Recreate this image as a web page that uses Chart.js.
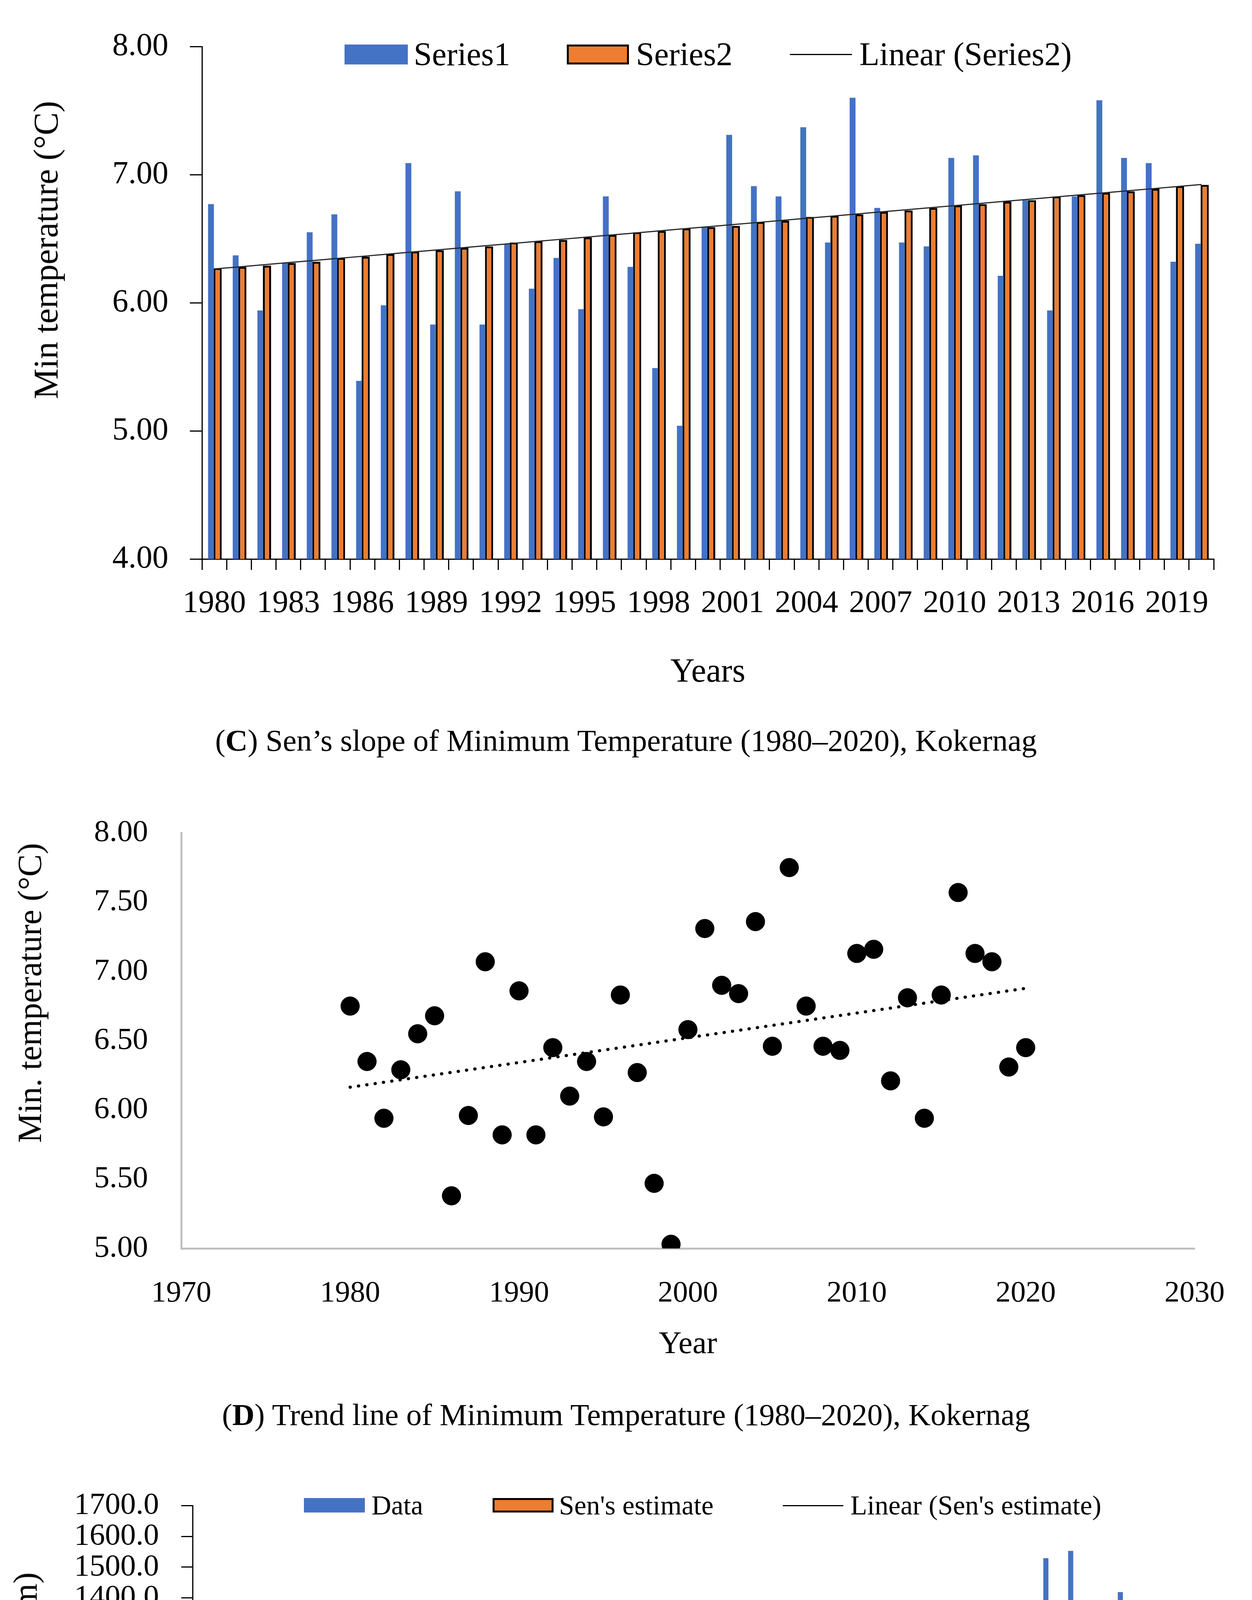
<!DOCTYPE html>
<html>
<head>
<meta charset="utf-8">
<script src="https://cdn.jsdelivr.net/npm/chart.js"></script>
<style>
  body { margin: 0; background: #fff; width: 3205px; height: 5449px; position: relative; overflow: hidden;
         font-family: "Liberation Serif", "Times New Roman", serif; color: #000; }
  canvas { position: absolute; left: 0; }
  .ytitle { position: absolute; white-space: nowrap; line-height: 1; transform: translate(-50%, -50%) rotate(-90deg); }
  .caption { position: absolute; left: 0; width: 3205px; text-align: center; font-size: 79px; line-height: 1; transform: translateY(-50%); }
  .lg { position: absolute; white-space: nowrap; line-height: 1; transform: translateY(-50%); }
  .key { position: absolute; box-sizing: border-box; }
</style>
</head>
<body>

<canvas id="chartC" width="3205" height="1800" style="top:0px"></canvas>
<canvas id="chartD" width="3205" height="1500" style="top:2000px"></canvas>
<canvas id="chartE" width="3205" height="1550" style="top:3750px"></canvas>

<!-- legend C -->
<div class="key" style="left:882px; top:114px; width:162px; height:51px; background:#4472C4"></div>
<div class="lg" style="left:1059px; top:139px; font-size:84px">Series1</div>
<div class="key" style="left:1451px; top:114px; width:159px; height:51px; background:#ED7D31; border:5px solid #000"></div>
<div class="lg" style="left:1628px; top:139px; font-size:84px">Series2</div>
<div class="key" style="left:2022px; top:138px; width:159px; height:3px; background:#000"></div>
<div class="lg" style="left:2200px; top:139px; font-size:84px">Linear (Series2)</div>

<!-- legend E -->
<div class="key" style="left:778px; top:3835px; width:156px; height:37px; background:#4472C4"></div>
<div class="lg" style="left:951px; top:3854px; font-size:70px">Data</div>
<div class="key" style="left:1261px; top:3835px; width:156px; height:37px; background:#ED7D31; border:5px solid #000"></div>
<div class="lg" style="left:1431px; top:3854px; font-size:70px">Sen's estimate</div>
<div class="key" style="left:2004px; top:3853px; width:155px; height:3px; background:#000"></div>
<div class="lg" style="left:2177px; top:3854px; font-size:70px">Linear (Sen's estimate)</div>

<div class="ytitle" style="left:118px; top:640px; font-size:88px">Min temperature (°C)</div>
<div class="ytitle" style="left:76px; top:2542px; font-size:86px">Min. temperature (°C)</div>
<div class="ytitle" style="left:65px; top:4270px; font-size:86px">Rainfall (mm)</div>

<div class="caption" style="top:1895px">(<b>C</b>) Sen’s slope of Minimum Temperature (1980–2020), Kokernag</div>
<div class="caption" style="top:3621px">(<b>D</b>) Trend line of Minimum Temperature (1980–2020), Kokernag</div>
<div class="caption" style="top:5381px">(<b>E</b>) Sen’s slope of Rainfall (1980–2020), Kokernag</div>

<script>
const years = [1980, 1981, 1982, 1983, 1984, 1985, 1986, 1987, 1988, 1989,
               1990, 1991, 1992, 1993, 1994, 1995, 1996, 1997, 1998, 1999,
               2000, 2001, 2002, 2003, 2004, 2005, 2006, 2007, 2008, 2009,
               2010, 2011, 2012, 2013, 2014, 2015, 2016, 2017, 2018, 2019,
               2020];

// (C) min temperature, observed and Sen's estimate
const minTempSeries1 = [6.77, 6.37, 5.94, 6.31, 6.55, 6.69, 5.39, 5.98, 7.09, 5.83,
                        6.87, 5.83, 6.46, 6.11, 6.35, 5.95, 6.83, 6.28, 5.49, 5.04,
                        6.59, 7.31, 6.91, 6.83, 7.37, 6.47, 7.60, 6.74, 6.47, 6.44,
                        7.13, 7.15, 6.21, 6.80, 5.94, 6.83, 7.58, 7.13, 7.09, 6.32,
                        6.46];
const minTempSeries2 = [6.27, 6.28, 6.29, 6.31, 6.32, 6.35, 6.36, 6.38, 6.40, 6.41,
                        6.43, 6.44, 6.47, 6.48, 6.49, 6.51, 6.53, 6.55, 6.56, 6.58,
                        6.59, 6.60, 6.63, 6.64, 6.67, 6.68, 6.69, 6.71, 6.72, 6.74,
                        6.76, 6.77, 6.79, 6.80, 6.83, 6.84, 6.86, 6.87, 6.89, 6.91,
                        6.92];

// (D) scatter of min temperature
const minTempScatter = [6.75, 6.35, 5.94, 6.29, 6.55, 6.68, 5.38, 5.96, 7.07, 5.82,
                        6.86, 5.82, 6.45, 6.10, 6.35, 5.95, 6.83, 6.27, 5.47, 5.03,
                        6.58, 7.31, 6.90, 6.84, 7.36, 6.46, 7.75, 6.75, 6.46, 6.43,
                        7.13, 7.16, 6.21, 6.81, 5.94, 6.83, 7.57, 7.13, 7.07, 6.31,
                        6.45];

// (E) rainfall, observed and Sen's estimate
const rainData = [1020, 1044, 1209, 1075, 1171, 951, 1386, 1269, 1254, 1089,
                  1116, 1016, 1204, 1200, 1345, 974, 1345, 1094, 763, 643,
                  525, 639, 661, 1003, 667, 1107, 960, 708, 1191, 1185,
                  1212, 901, 1012, 929, 1529, 1553, 689, 1419, 1007, 1306,
                  726];
const rainSen = [1082, 1082, 1082, 1078, 1078, 1078, 1073, 1073, 1068, 1068,
                 1068, 1062, 1062, 1058, 1058, 1058, 1053, 1053, 1053, 1048,
                 1048, 1044, 1044, 1044, 1038, 1038, 1038, 1033, 1033, 1029,
                 1029, 1029, 1024, 1024, 1024, 1018, 1018, 1015, 1015, 1015,
                 1009];

const FONT = "'Liberation Serif', 'Times New Roman', serif";

// least squares line, like Excel's "Linear" trendline
function linearFit(xs, ys) {
    const n = xs.length;
    let sx = 0, sy = 0, sxx = 0, sxy = 0;
    for (let i = 0; i < n; i++) {
        sx += xs[i]; sy += ys[i]; sxx += xs[i] * xs[i]; sxy += xs[i] * ys[i];
    }
    const b = (n * sxy - sx * sy) / (n * sxx - sx * sx);
    const a = (sy - b * sx) / n;
    return x => a + b * x;
}

function everyThird(value, index) {
    return index % 3 === 0 ? this.getLabelForValue(value) : "";
}

function barChart(id, opts) {
    const fit = linearFit(years, opts.sen);
    return new Chart(document.getElementById(id), {
        type: "bar",
        data: {
            labels: years,
            datasets: [
                {
                    label: opts.names[0],
                    data: opts.obs,
                    backgroundColor: "#4472C4",
                    borderWidth: 0,
                    categoryPercentage: 0.538,
                    barPercentage: opts.blueBar
                },
                {
                    label: opts.names[1],
                    data: opts.sen,
                    backgroundColor: "#ED7D31",
                    borderColor: "#000000",
                    borderWidth: 5,
                    borderSkipped: false,
                    categoryPercentage: 0.538,
                    barPercentage: 1.235
                },
                {
                    type: "line",
                    label: opts.names[2],
                    data: years.map(y => fit(y)),
                    borderColor: "#262626",
                    borderWidth: 3,
                    pointRadius: 0,
                    tension: 0,
                    order: -1
                }
            ]
        },
        options: {
            responsive: false,
            animation: false,
            devicePixelRatio: 1,
            layout: { padding: opts.padding },
            plugins: { legend: { display: false }, tooltip: { enabled: false } },
            scales: {
                x: {
                    offset: true,
                    grid: { offset: true, drawOnChartArea: false, color: "#000", lineWidth: 3, tickLength: opts.xTick },
                    border: { color: "#000", width: 3 },
                    ticks: {
                        autoSkip: false, maxRotation: 0, minRotation: 0, padding: opts.xPad,
                        color: "#000", font: { family: FONT, size: opts.xFont },
                        callback: everyThird
                    },
                    title: {
                        display: true, text: opts.xTitle, color: "#000",
                        font: { family: FONT, size: opts.xTitleFont },
                        padding: { top: 0, bottom: opts.xTitlePad }
                    },
                    afterFit: s => { s.height = opts.xHeight; }
                },
                y: {
                    min: opts.yMin, max: opts.yMax,
                    grid: { drawOnChartArea: false, color: "#000", lineWidth: 3, tickLength: opts.yTick },
                    border: { color: "#000", width: 3 },
                    ticks: {
                        stepSize: opts.yStep, autoSkip: false, padding: opts.yPad,
                        color: "#000", font: { family: FONT, size: opts.yFont },
                        callback: v => v.toFixed(opts.yDigits)
                    },
                    afterFit: s => { s.width = opts.yWidth; }
                }
            }
        }
    });
}

barChart("chartC", {
    names: ["Series1", "Series2", "Linear (Series2)"],
    obs: minTempSeries1, sen: minTempSeries2, blueBar: 0.88,
    padding: { left: 0, right: 98, top: 119, bottom: 0 },
    xTick: 28, xPad: 38, xFont: 81, xTitle: "Years", xTitleFont: 86, xTitlePad: 26, xHeight: 369,
    yMin: 4, yMax: 8, yStep: 1, yTick: 31, yPad: 55, yFont: 82, yDigits: 2, yWidth: 517
});

barChart("chartE", {
    names: ["Data", "Sen's estimate", "Linear (Sen's estimate)"],
    obs: rainData, sen: rainSen, blueBar: 0.765,
    padding: { left: 0, right: 106, top: 60, bottom: 0 },
    xTick: 27, xPad: 43, xFont: 76, xTitle: "Year", xTitleFont: 84, xTitlePad: 43, xHeight: 343,
    yMin: 300, yMax: 1700, yStep: 100, yTick: 29, yPad: 57, yFont: 79, yDigits: 1, yWidth: 493
});

// (D) scatter with dotted linear trend
const fitD = linearFit(years, minTempScatter);
const firstYear = years[0], lastYear = years[years.length - 1];

new Chart(document.getElementById("chartD"), {
    type: "scatter",
    data: {
        datasets: [
            {
                label: "Min. temperature",
                data: years.map((y, i) => ({ x: y, y: minTempScatter[i] })),
                backgroundColor: "#000",
                borderColor: "#000",
                pointRadius: 24,
                pointHoverRadius: 24,
                order: 0
            },
            {
                type: "line",
                label: "Linear",
                data: [{ x: firstYear, y: fitD(firstYear) }, { x: lastYear, y: fitD(lastYear) }],
                borderColor: "#000",
                borderWidth: 8,
                borderDash: [0.5, 21],
                borderCapStyle: "round",
                pointRadius: 0,
                order: 1
            }
        ]
    },
    options: {
        responsive: false,
        animation: false,
        devicePixelRatio: 1,
        layout: { padding: { left: 0, right: 125, top: 70, bottom: 0 } },
        plugins: { legend: { display: false }, tooltip: { enabled: false } },
        scales: {
            x: {
                type: "linear", min: 1970, max: 2030,
                grid: { drawOnChartArea: false, drawTicks: false },
                border: { color: "#BFBFBF", width: 5 },
                ticks: {
                    stepSize: 10, padding: 70, color: "#000",
                    font: { family: FONT, size: 77 },
                    callback: v => String(v)
                },
                title: {
                    display: true, text: "Year", color: "#000",
                    font: { family: FONT, size: 81 },
                    padding: { top: 0, bottom: 9 }
                },
                afterFit: s => { s.height = 304; }
            },
            y: {
                min: 5, max: 8,
                grid: { drawOnChartArea: false, drawTicks: false },
                border: { color: "#BFBFBF", width: 5 },
                ticks: {
                    stepSize: 0.5, autoSkip: false, padding: 85, color: "#000",
                    font: { family: FONT, size: 79 },
                    callback: v => v.toFixed(2)
                },
                afterFit: s => { s.width = 464; }
            }
        }
    }
});
</script>
</body>
</html>
